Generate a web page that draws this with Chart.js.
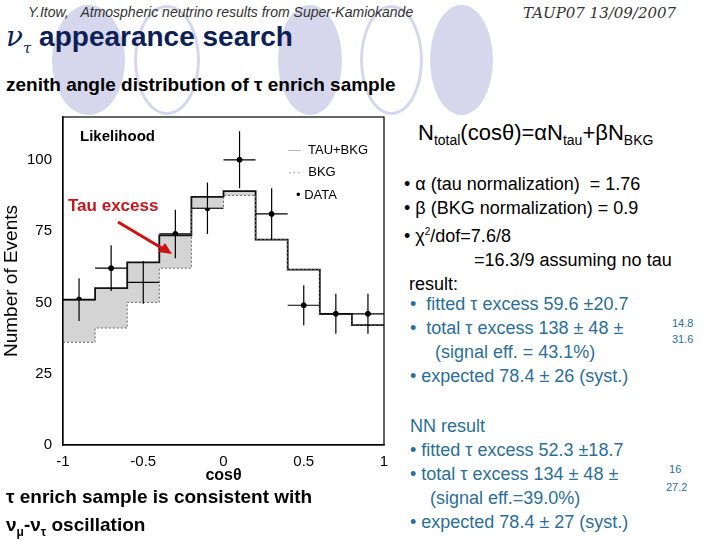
<!DOCTYPE html>
<html>
<head>
<meta charset="UTF-8">
<title>nu tau appearance</title>
<script src="https://cdn.jsdelivr.net/npm/chart.js@4"></script>
<style>
  body { margin:0; width:720px; height:540px; position:relative; background:#fff; font-family:"Liberation Sans", Arial, sans-serif; overflow:hidden; }
  .t { position:absolute; white-space:nowrap; }
  .circ { position:absolute; border-radius:50%; }
  .fill { background:#d6d6ec; }
  .ring { border:3px solid #d6d6ec; box-sizing:border-box; }
  .blue { color:#2a6e99; }
  #wrap { position:absolute; left:0; top:105px; width:395px; height:380px; }
</style>
</head>
<body>
<div class="circ fill" style="left:52px;top:5px;width:73px;height:110px"></div>
<div class="circ ring" style="left:134px;top:5px;width:66px;height:110px"></div>
<div class="circ fill" style="left:278px;top:5px;width:64px;height:110px"></div>
<div class="circ ring" style="left:360px;top:5px;width:63px;height:110px"></div>
<div class="circ fill" style="left:430px;top:5px;width:63px;height:110px"></div>

<div class="t" style="left:28px;top:4px;font-size:14px;font-style:italic;color:#333">Y.Itow,&nbsp;&nbsp;&nbsp;Atmospheric neutrino results from Super-Kamiokande</div>
<div class="t" style="left:523px;top:4px;font-size:15px;font-style:italic;color:#333;font-family:'DejaVu Serif',serif">TAUP07 13/09/2007</div>
<div class="t" style="left:6px;top:20px;font-size:28px;font-weight:bold;color:#0d1f55"><i style="font-family:'DejaVu Serif',serif;font-weight:normal">ν<sub style="font-size:15px">τ</sub></i> appearance search</div>
<div class="t" style="left:6px;top:74px;font-size:19px;font-weight:bold">zenith angle distribution of τ enrich sample</div>

<div id="wrap"><canvas id="c"></canvas></div>
<div class="t" style="left:80px;top:127px;font-size:15px;font-weight:bold;font-family:'Liberation Sans'">Likelihood</div>
<div class="t" style="left:288px;top:142px;font-size:13px"><span style="color:#aaa">—</span>&nbsp; TAU+BKG</div>
<div class="t" style="left:288px;top:164px;font-size:13px"><span style="color:#999">···</span>&nbsp; BKG</div>
<div class="t" style="left:296px;top:187px;font-size:13px">• DATA</div>
<div class="t" style="left:68px;top:196px;font-size:17px;font-weight:bold;color:#c8141c">Tau excess</div>
<svg style="position:absolute;left:0;top:0" width="400" height="300"><line x1="118" y1="222" x2="165" y2="250" stroke="#d01010" stroke-width="3"/><polygon points="172,254 158,252 165,243" fill="#d01010"/></svg>

<div class="t" style="left:6px;top:483px;font-size:19px;font-weight:bold;line-height:28px">τ enrich sample is consistent with<br>ν<sub style="font-size:12px">μ</sub>-ν<sub style="font-size:12px">τ</sub> oscillation</div>

<div class="t" style="left:418px;top:120px;font-size:22px">N<sub style="font-size:14px">total</sub>(cosθ)=αN<sub style="font-size:14px">tau</sub>+βN<sub style="font-size:14px">BKG</sub></div>
<div class="t" style="left:404px;top:172px;font-size:18px;line-height:24px">• α (tau normalization)&nbsp; = 1.76<br>• β (BKG normalization) = 0.9<br>• χ<sup style="font-size:10px">2</sup>/dof=7.6/8<br>&nbsp;&nbsp;&nbsp;&nbsp;&nbsp;&nbsp;&nbsp;&nbsp;&nbsp;&nbsp;&nbsp;&nbsp;&nbsp;&nbsp;=16.3/9 assuming no tau<br>&nbsp;result:</div>
<div class="t blue" style="left:410px;top:292px;font-size:18px;line-height:24px">•&nbsp; fitted τ excess 59.6 ±20.7<br>•&nbsp; total τ excess 138 ± 48 ±<br>&nbsp;&nbsp;&nbsp;&nbsp;&nbsp;(signal eff. = 43.1%)<br>• expected 78.4 ± 26 (syst.)</div>
<div class="t blue" style="left:672px;top:315px;font-size:11px;line-height:16px">14.8<br>31.6</div>
<div class="t blue" style="left:410px;top:414px;font-size:18px;line-height:24px">NN result<br>• fitted τ excess 52.3 ±18.7<br>• total τ excess 134 ± 48 ±<br>&nbsp;&nbsp;&nbsp;&nbsp;(signal eff.=39.0%)<br>• expected 78.4 ± 27 (syst.)</div>
<div class="t blue" style="left:666px;top:460px;font-size:11px;line-height:18px">&nbsp;16<br>27.2</div>

<script>
const binEdges = [-1, -0.8, -0.6, -0.4, -0.2, 0, 0.2, 0.4, 0.6, 0.8, 1];
const tauBkg = [51, 55, 64, 73.5, 87, 89, 72, 61.5, 46, 42];
const bkg = [36, 41, 50, 62, 83, 87.5, 72, 61.5, 46, 42];
const dataVals = [51, 62, 57, 74, 83, 100, 81, 49, 46, 46];
const dataErr = [7.5, 8, 7.5, 8.5, 9, 10, 9, 7, 7, 7];

function steps(v) {
  const pts = v.map((y, i) => ({ x: binEdges[i], y: y }));
  pts.push({ x: 1, y: v[v.length - 1] });
  return pts;
}
const centers = dataVals.map((y, i) => ({ x: (binEdges[i] + binEdges[i + 1]) / 2, y: y }));

const errorBars = {
  id: 'errorBars',
  afterDatasetsDraw(chart) {
    const { ctx, chartArea: a, scales: { x, y } } = chart;
    ctx.save();
    ctx.strokeStyle = '#000';
    ctx.lineWidth = 1.2;
    ctx.strokeRect(a.left, a.top, a.right - a.left, a.bottom - a.top);
    centers.forEach((p, i) => {
      const px = x.getPixelForValue(p.x), py = y.getPixelForValue(p.y);
      ctx.beginPath();
      ctx.moveTo(x.getPixelForValue(binEdges[i]), py);
      ctx.lineTo(x.getPixelForValue(binEdges[i + 1]), py);
      ctx.moveTo(px, y.getPixelForValue(p.y - dataErr[i]));
      ctx.lineTo(px, y.getPixelForValue(p.y + dataErr[i]));
      ctx.stroke();
    });
    ctx.restore();
  }
};

new Chart(document.getElementById('c'), {
  type: 'scatter',
  data: {
    datasets: [
      { label: 'BKG', type: 'line', data: steps(bkg), stepped: 'before', borderColor: '#666', borderWidth: 1, borderDash: [2, 2], pointRadius: 0, fill: false },
      { label: 'TAU+BKG', type: 'line', data: steps(tauBkg), stepped: 'before', borderColor: '#111', borderWidth: 1.8, pointRadius: 0, fill: { target: 0 }, backgroundColor: '#d4d4d4' },
      { label: 'DATA', data: centers, pointRadius: 2.5, backgroundColor: '#000', borderColor: '#000' }
    ]
  },
  options: {
    responsive: true, maintainAspectRatio: false, animation: false,
    layout: { padding: { right: 11, top: 8 } },
    plugins: { legend: { display: false }, tooltip: { enabled: false } },
    scales: {
      x: {
        type: 'linear', min: -1, max: 1,
        afterFit(s) { s.height = 40; },
        grid: { display: false },
        border: { color: '#000', width: 1.2 },
        ticks: { stepSize: 0.5, color: '#000', font: { size: 15 }, padding: 0, callback: v => v },
        title: { display: true, text: 'cosθ', color: '#000', font: { size: 16, weight: 'bold' }, padding: 0 }
      },
      y: {
        min: 0, max: 115,
        afterFit(s) { s.width = 63; },
        afterBuildTicks(s) { s.ticks = [0, 25, 50, 75, 100].map(v => ({ value: v })); },
        grid: { display: false },
        border: { color: '#000', width: 1.2 },
        ticks: { color: '#000', font: { size: 15 } },
        title: { display: true, text: 'Number of Events', color: '#000', font: { size: 19 }, padding: 0 }
      }
    }
  },
  plugins: [errorBars]
});
</script>
</body>
</html>
